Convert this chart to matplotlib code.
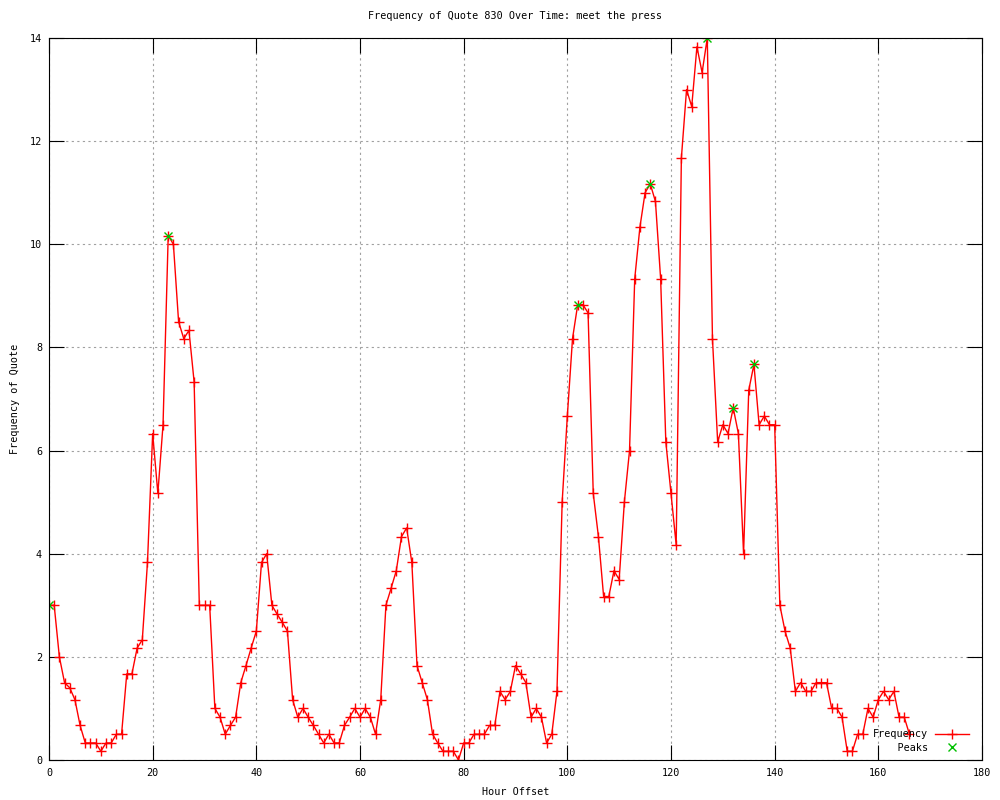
import numpy as np
import matplotlib
matplotlib.use('Agg')
import matplotlib.pyplot as plt

# quote frequency per hour offset
freq = [3, 3, 2, 1.5, 1.4, 1.17, 0.67, 0.33, 0.33, 0.33,
        0.17, 0.33, 0.33, 0.5, 0.5, 1.67, 1.67, 2.17, 2.33, 3.83,
        6.33, 5.17, 6.5, 10.17, 10, 8.5, 8.17, 8.33, 7.33, 3,
        3, 3, 1, 0.83, 0.5, 0.67, 0.83, 1.5, 1.83, 2.17,
        2.5, 3.83, 4, 3, 2.83, 2.67, 2.5, 1.17, 0.83, 1,
        0.83, 0.67, 0.5, 0.33, 0.5, 0.33, 0.33, 0.67, 0.83, 1,
        0.83, 1, 0.83, 0.5, 1.17, 3, 3.33, 3.67, 4.33, 4.5,
        3.83, 1.83, 1.5, 1.17, 0.5, 0.33, 0.17, 0.17, 0.17, 0,
        0.33, 0.33, 0.5, 0.5, 0.5, 0.67, 0.67, 1.33, 1.17, 1.33,
        1.83, 1.67, 1.5, 0.83, 1, 0.83, 0.33, 0.5, 1.33, 5,
        6.67, 8.17, 8.83, 8.83, 8.67, 5.17, 4.33, 3.17, 3.17, 3.67,
        3.5, 5, 6, 9.33, 10.33, 11, 11.17, 10.83, 9.33, 6.17,
        5.17, 4.17, 11.67, 13, 12.67, 13.83, 13.33, 14, 8.17, 6.17,
        6.5, 6.33, 6.83, 6.33, 4, 7.17, 7.67, 6.5, 6.67, 6.5,
        6.5, 3, 2.5, 2.17, 1.33, 1.5, 1.33, 1.33, 1.5, 1.5,
        1.5, 1, 1, 0.83, 0.17, 0.17, 0.5, 0.5, 1, 0.83,
        1.17, 1.33, 1.17, 1.33, 0.83, 0.83, 0.5]
hours = list(range(len(freq)))

peak_hours = [0, 23, 102, 116, 127, 132, 136]
peak_vals = [3, 10.17, 8.83, 11.17, 14, 6.83, 7.67]

title = 'Frequency of Quote 830 Over Time: meet the press'
xticks = [0, 20, 40, 60, 80, 100, 120, 140, 160, 180]
yticks = [0, 2, 4, 6, 8, 10, 12, 14]

fs = 7.3
mono = 'DejaVu Sans Mono'
plt.rcParams['font.family'] = mono

fig = plt.figure(figsize=(10, 8), dpi=100)
ax = fig.add_axes([0.049, 0.05, 0.933, 0.9025])

ax.plot(hours, freq, color='#ff0000', linewidth=1.0, marker='+',
        markersize=7, markeredgewidth=1.0, label='Frequency')
ax.plot(peak_hours, peak_vals, linestyle='none', color='#00c000', marker='x',
        markersize=5.5, markeredgewidth=1.0, label='    Peaks')

ax.set_xlim(0, 180)
ax.set_ylim(0, 14)
ax.set_xticks(xticks)
ax.set_yticks(yticks)
ax.grid(True, color='#a0a0a0', linestyle=(0, (2, 3)), linewidth=0.8)
ax.set_axisbelow(True)
ax.tick_params(axis='both', direction='in', length=11, width=0.8,
               top=True, right=True, labelsize=fs, pad=5)
ax.tick_params(axis='x', pad=6)
for s in ax.spines.values():
    s.set_linewidth(0.8)

ax.set_title(title, fontsize=fs, pad=14)
ax.set_xlabel('Hour Offset', fontsize=fs, labelpad=6)
ax.set_ylabel('Frequency of Quote', fontsize=fs, labelpad=7)

ax.legend(loc='lower right', bbox_to_anchor=(0.994, 0.0), frameon=False,
          markerfirst=False, fontsize=fs, handlelength=3.4, handletextpad=0.7,
          labelspacing=0.35, borderaxespad=0.3)

plt.savefig('out.png', dpi=100)
plt.close()
